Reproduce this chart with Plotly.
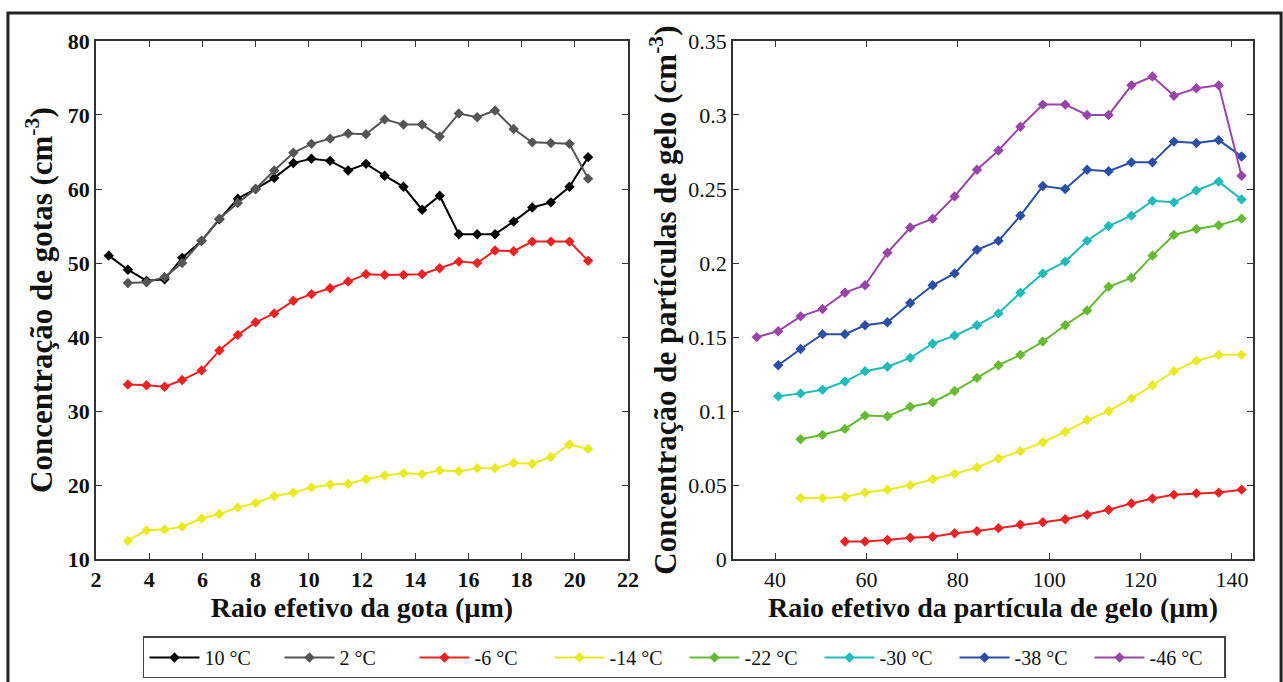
import plotly.graph_objects as go

# ---------------- data: left panel (droplets) ----------------
x_gota = [2.48, 3.2, 3.9, 4.58, 5.24, 5.97, 6.64, 7.33, 8.0, 8.7, 9.42, 10.1, 10.8, 11.48,
          12.15, 12.85, 13.56, 14.26, 14.92, 15.64, 16.33, 17.0, 17.7, 18.4, 19.1, 19.8, 20.5]
g_10 = [51.0, 49.1, 47.6, 47.8, 50.7, 53.0, 55.9, 58.7, 60.0, 61.5, 63.5, 64.1, 63.8, 62.5,
        63.4, 61.8, 60.3, 57.2, 59.1, 53.9, 53.9, 53.9, 55.6, 57.5, 58.2, 60.3, 64.3]
g_2 = [47.3, 47.4, 48.1, 50.0, 53.0, 56.0, 58.1, 60.0, 62.5, 64.9, 66.1, 66.8, 67.5,
       67.4, 69.4, 68.7, 68.7, 67.1, 70.2, 69.7, 70.6, 68.1, 66.3, 66.2, 66.1, 61.4]
g_m6 = [33.6, 33.5, 33.3, 34.2, 35.5, 38.2, 40.3, 42.0, 43.2, 44.9, 45.8, 46.6, 47.5,
        48.5, 48.4, 48.4, 48.5, 49.3, 50.2, 50.0, 51.7, 51.6, 52.9, 52.9, 52.9, 50.3]
g_m14 = [12.5, 13.9, 14.0, 14.4, 15.5, 16.1, 17.0, 17.6, 18.5, 19.0, 19.7, 20.1, 20.2,
         20.8, 21.3, 21.6, 21.5, 22.0, 21.9, 22.3, 22.3, 23.0, 22.9, 23.8, 25.5, 24.9]

# ---------------- data: right panel (ice particles) ----------------
x_gelo = [36.0, 40.7, 45.6, 50.4, 55.3, 59.7, 64.6, 69.6, 74.5, 79.3, 84.2, 88.9, 93.7,
          98.6, 103.5, 108.3, 113.0, 118.0, 122.6, 127.3, 132.2, 137.1, 142.1]
i_m46 = [0.150, 0.154, 0.164, 0.169, 0.180, 0.185, 0.207, 0.224, 0.230, 0.245, 0.263, 0.276,
         0.292, 0.307, 0.307, 0.300, 0.300, 0.320, 0.326, 0.313, 0.318, 0.320, 0.259]
i_m38 = [0.131, 0.142, 0.152, 0.152, 0.158, 0.160, 0.173, 0.185, 0.193, 0.209, 0.215,
         0.232, 0.252, 0.250, 0.263, 0.262, 0.268, 0.268, 0.282, 0.281, 0.283, 0.272]
i_m30 = [0.110, 0.112, 0.1145, 0.120, 0.127, 0.130, 0.136, 0.1455, 0.151, 0.158, 0.166,
         0.180, 0.193, 0.201, 0.215, 0.225, 0.232, 0.242, 0.241, 0.249, 0.255, 0.243]
i_m22 = [0.081, 0.084, 0.088, 0.097, 0.0966, 0.103, 0.106, 0.1136, 0.1225, 0.131, 0.138,
         0.147, 0.158, 0.168, 0.184, 0.190, 0.205, 0.219, 0.223, 0.2255, 0.230]
i_m14 = [0.0414, 0.0413, 0.042, 0.045, 0.047, 0.050, 0.054, 0.0577, 0.062, 0.068, 0.073,
         0.079, 0.086, 0.094, 0.100, 0.1086, 0.1175, 0.127, 0.134, 0.138, 0.138]
i_m6 = [0.012, 0.012, 0.013, 0.0145, 0.0152, 0.0175, 0.019, 0.021, 0.0234, 0.025, 0.027,
        0.030, 0.0334, 0.0377, 0.041, 0.0436, 0.0445, 0.045, 0.047]

labels = ["10 °C", "2 °C", "-6 °C", "-14 °C", "-22 °C", "-30 °C", "-38 °C", "-46 °C"]
colors = ["#000000", "#555555", "#ee2222", "#eaea22", "#66bb33", "#22bbbb", "#2a4fa8", "#9944aa"]

FONT = "Liberation Serif"
fig = go.Figure()

def add(x, y, i, xa, ya, show):
    fig.add_trace(go.Scatter(
        x=x, y=y, mode="lines+markers", name=labels[i], xaxis=xa, yaxis=ya,
        line=dict(color=colors[i], width=2),
        marker=dict(symbol="diamond", size=8, color=colors[i]),
        showlegend=show, legendgroup=labels[i]))

add(x_gota, g_10, 0, "x", "y", True)
add(x_gota[1:], g_2, 1, "x", "y", True)
add(x_gota[1:], g_m6, 2, "x", "y", True)
add(x_gota[1:], g_m14, 3, "x", "y", True)

add(x_gelo[4:], i_m6, 2, "x2", "y2", False)
add(x_gelo[2:], i_m14, 3, "x2", "y2", False)
add(x_gelo[2:], i_m22, 4, "x2", "y2", True)
add(x_gelo[1:], i_m30, 5, "x2", "y2", True)
add(x_gelo[1:], i_m38, 6, "x2", "y2", True)
add(x_gelo, i_m46, 7, "x2", "y2", True)

axis_common = dict(showline=True, linecolor="#333333", linewidth=1.5, mirror="ticks",
                   ticks="inside", ticklen=6, tickcolor="#333333", showgrid=False,
                   zeroline=False, automargin=False,
                   tickfont=dict(family=FONT, size=22, color="#111111"))
xtitle_font = dict(family=FONT, size=28, color="#111111")
ytitle_font = dict(family=FONT, size=31, color="#111111")

fig.update_layout(
    width=1283, height=682,
    margin=dict(l=0, r=0, t=0, b=0, autoexpand=False),
    paper_bgcolor="white", plot_bgcolor="white",
    font=dict(family=FONT, color="#111111"),
    xaxis=dict(domain=[0.0748, 0.4895], range=[2, 22], dtick=2, anchor="y",
               title=dict(text="<b>Raio efetivo da gota (µm)</b>", font=xtitle_font, standoff=5),
               tickprefix="<b>", ticksuffix="</b>", **axis_common),
    yaxis=dict(domain=[0.180, 0.940], range=[10, 80], dtick=10, anchor="x",
               title=dict(text="<b>Concentração de gotas (cm<sup>-3</sup>)</b>", font=ytitle_font, standoff=6),
               tickprefix="<b>", ticksuffix="</b>", **axis_common),
    xaxis2=dict(domain=[0.5713, 0.9766], range=[30.8, 144.6], tickvals=[40, 60, 80, 100, 120, 140],
                anchor="y2",
                title=dict(text="<b>Raio efetivo da partícula de gelo (µm)</b>", font=xtitle_font, standoff=5),
                tickprefix="<b>", ticksuffix="</b>", **axis_common),
    yaxis2=dict(domain=[0.180, 0.940], range=[0, 0.35], tickvals=[0, 0.05, 0.1, 0.15, 0.2, 0.25, 0.3, 0.35],
                ticktext=["0", "0.05", "0.1", "0.15", "0.2", "0.25", "0.3", "0.35"], anchor="x2",
                title=dict(text="<b>Concentração de partículas de gelo (cm<sup>-3</sup>)</b>", font=ytitle_font, standoff=2),
                tickprefix="<b>", ticksuffix="</b>", **axis_common),
    legend=dict(orientation="h", x=0.5335, xanchor="center", y=0.036, yanchor="middle",
                bordercolor="#444444", borderwidth=1.5, bgcolor="white",
                font=dict(family=FONT, size=20, color="#111111"),
                itemwidth=50, entrywidth=70, traceorder="normal"),
    shapes=[dict(type="rect", xref="paper", yref="paper", x0=0.0062, x1=0.9985, y0=-0.05, y1=0.981,
                 line=dict(color="#222222", width=3), fillcolor="rgba(0,0,0,0)", layer="below")],
)

fig.write_html("out.html")
